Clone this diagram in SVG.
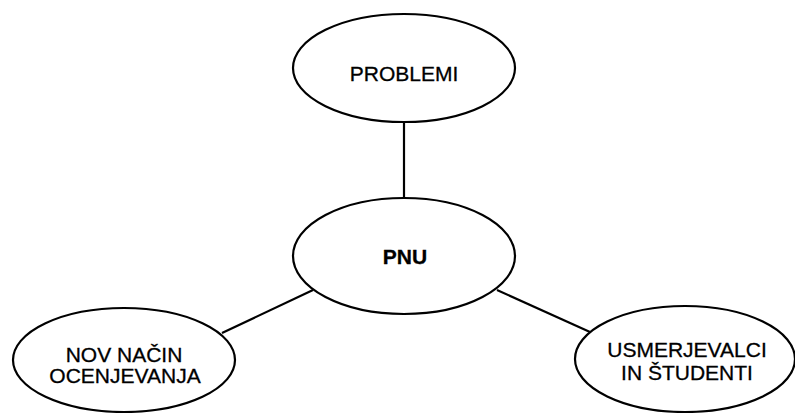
<svg xmlns="http://www.w3.org/2000/svg" width="795" height="413" viewBox="0 0 795 413">
<style>
.n{fill:#fff;stroke:#000;stroke-width:2.2}
.c{stroke:#000;stroke-width:2.2;fill:none}
text{font-family:"Liberation Sans",Arial,sans-serif;font-size:21px;fill:#000;text-anchor:middle;stroke:#000;stroke-width:0.3}
.b{font-weight:bold}
</style>
<rect width="795" height="413" fill="#fff"/>
<g id="connectors">
<line class="c" x1="404" y1="122" x2="404" y2="198"/>
<line class="c" x1="222" y1="333" x2="313" y2="290"/>
<line class="c" x1="590" y1="332" x2="497" y2="290"/>
</g>
<g id="problemi">
<ellipse class="n" cx="404" cy="68" rx="111" ry="54"/>
<text x="404" y="81">PROBLEMI</text>
</g>
<g id="pnu">
<ellipse class="n" cx="404" cy="256" rx="111" ry="58"/>
<text class="b" x="405" y="264">PNU</text>
</g>
<g id="nov">
<ellipse class="n" cx="124" cy="360" rx="111" ry="52"/>
<text x="124" y="362">NOV NAČIN</text>
<text x="125" y="383">OCENJEVANJA</text>
</g>
<g id="usm">
<ellipse class="n" cx="685" cy="359" rx="110" ry="53"/>
<text x="687" y="357">USMERJEVALCI</text>
<text x="687" y="380">IN ŠTUDENTI</text>
</g>
</svg>
